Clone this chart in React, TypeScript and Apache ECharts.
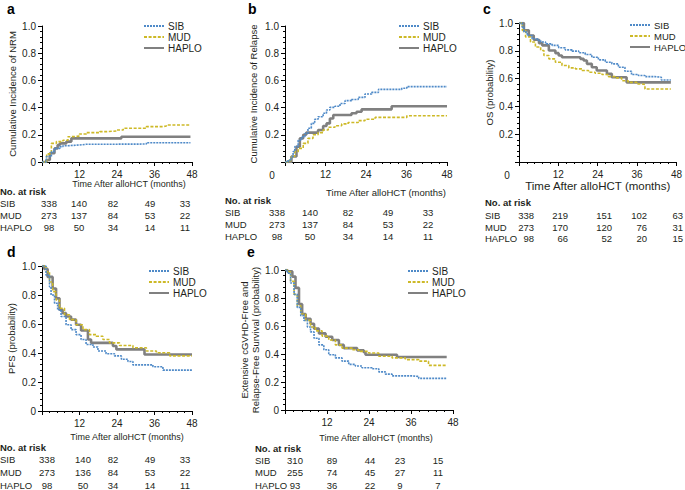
import React, { useEffect, useRef } from "react";
import * as echarts from "echarts";

const FONT = '"Liberation Sans", Arial, Helvetica, sans-serif';
const groups = ["SIB", "MUD", "HAPLO"];
const xTitle = "Time After alloHCT (months)";

// ---- Panel a: cumulative incidence of NRM
const nrmSIB = [[0,0],[1.4,0.04],[3,0.076],[4,0.1],[5.7,0.113],[6.7,0.12],[8.3,0.125],[12,0.13],[14.2,0.132],[33.4,0.142],[47.5,0.142]];
const nrmMUD = [[0,0],[1.5,0.06],[3,0.137],[4.6,0.15],[6.7,0.16],[8.3,0.186],[9.4,0.19],[12,0.206],[14.2,0.216],[18.5,0.223],[20.6,0.228],[23.8,0.235],[26,0.248],[33.4,0.26],[38.7,0.265],[39.8,0.272],[47.5,0.272]];
const nrmHAPLO = [[0,0],[1.4,0.015],[2.5,0.064],[4,0.1],[5,0.125],[5.7,0.137],[7.8,0.15],[9.4,0.174],[25.4,0.186],[47.5,0.186]];

// ---- Panel b: cumulative incidence of relapse
const relSIB = [[0,0],[0.9,0.015],[1.9,0.04],[2.4,0.076],[2.9,0.113],[3.9,0.16],[4.9,0.186],[5.9,0.21],[6.8,0.248],[7.8,0.284],[8.8,0.314],[9.8,0.333],[11.3,0.358],[12.3,0.382],[13.3,0.402],[14.8,0.41],[16.3,0.43],[17.8,0.451],[19.7,0.46],[21.7,0.475],[23.7,0.5],[25.7,0.512],[27.7,0.534],[34.6,0.542],[36.1,0.554],[48,0.554]];
const relMUD = [[0,0],[0.9,0.01],[1.9,0.04],[2.9,0.076],[3.9,0.1],[5.4,0.137],[6.8,0.174],[8.3,0.2],[9.8,0.216],[11.3,0.235],[12.8,0.255],[14.8,0.267],[16.8,0.28],[18.7,0.29],[21.7,0.304],[23.7,0.314],[26.7,0.328],[36.1,0.34],[48,0.34]];
const relHAPLO = [[0,0],[1.9,0.04],[3.4,0.113],[4.4,0.174],[5.4,0.2],[6.3,0.216],[9.8,0.235],[11.3,0.265],[12.3,0.284],[13.3,0.32],[14.3,0.346],[19.7,0.358],[21.2,0.37],[22.7,0.387],[31.6,0.41],[48,0.41]];

// ---- Panel c: OS
const osSIB = [[0,1],[1,0.97],[1.5,0.935],[2.5,0.91],[4,0.887],[5.6,0.875],[6.6,0.863],[8.1,0.85],[10.1,0.839],[12.1,0.822],[14.1,0.807],[16.2,0.798],[18.2,0.786],[20.2,0.773],[22.2,0.754],[24.2,0.735],[26.3,0.718],[28.3,0.706],[30.3,0.682],[32.3,0.653],[34.3,0.629],[36.4,0.622],[38.4,0.614],[41.4,0.61],[43.4,0.59],[46.3,0.585]];
const osMUD = [[0,1],[1,0.947],[2,0.9],[3.5,0.863],[5,0.827],[6.6,0.802],[7.6,0.766],[9.1,0.742],[11.1,0.718],[13.1,0.694],[15.2,0.677],[17.2,0.67],[19.2,0.658],[21.2,0.646],[23.2,0.639],[25.3,0.629],[27.3,0.614],[29.3,0.605],[31.3,0.585],[33.3,0.573],[35.9,0.561],[37.4,0.557],[38.4,0.525],[46.3,0.525]];
const osHAPLO = [[0,1],[1.5,0.947],[3,0.91],[4.5,0.88],[6.1,0.855],[7.1,0.839],[9.1,0.802],[11.1,0.783],[12.1,0.766],[13.1,0.754],[18.7,0.742],[19.7,0.73],[20.7,0.706],[22.2,0.682],[23.7,0.658],[26.8,0.634],[28.3,0.61],[32.8,0.573],[46.3,0.573]];

// ---- Panel d: PFS
const pfsSIB = [[0,1],[1.3,0.936],[2.4,0.857],[2.9,0.8],[4,0.743],[5,0.698],[6.1,0.652],[7.7,0.595],[9.3,0.561],[10.9,0.527],[12.5,0.493],[14.1,0.459],[16.3,0.441],[17.9,0.414],[20.5,0.395],[23.2,0.38],[25.4,0.357],[27.5,0.341],[29.1,0.318],[35.5,0.305],[38.7,0.282],[48,0.282]];
const pfsMUD = [[0,1],[1.3,0.96],[2.4,0.89],[3.4,0.823],[4.5,0.766],[5.6,0.709],[7.2,0.664],[8.8,0.63],[10.9,0.595],[13.1,0.561],[15.2,0.527],[17.3,0.516],[19.5,0.493],[21.6,0.47],[24.8,0.452],[29.1,0.436],[33.4,0.414],[36.6,0.402],[40.9,0.38],[48,0.38]];
const pfsHAPLO = [[0,1],[0.7,0.98],[1.8,0.925],[3.4,0.845],[4.5,0.777],[5.6,0.698],[6.6,0.675],[7.7,0.652],[9.3,0.63],[10.9,0.595],[12.5,0.555],[14.7,0.493],[15.7,0.47],[22.7,0.448],[23.8,0.425],[32.8,0.39],[48,0.39]];

// ---- Panel e: extensive cGVHD-free and relapse-free survival
const crfsSIB = [[0,1],[0.7,0.977],[1.6,0.907],[2.6,0.826],[3.5,0.733],[4.5,0.674],[5.4,0.64],[6.4,0.593],[7.3,0.558],[8.3,0.512],[9.7,0.465],[11.1,0.43],[12.5,0.395],[14.4,0.372],[16.3,0.349],[18.2,0.326],[20.1,0.314],[22,0.302],[24.9,0.295],[26.8,0.272],[28.7,0.256],[30.6,0.244],[36.3,0.24],[38.2,0.226],[46.2,0.226]];
const crfsMUD = [[0,1],[0.7,0.988],[1.6,0.919],[2.6,0.826],[3.5,0.744],[4.5,0.686],[5.9,0.64],[7.3,0.593],[8.7,0.565],[10.6,0.528],[12.5,0.5],[14.4,0.465],[16.3,0.442],[19.2,0.43],[21.1,0.419],[23.9,0.407],[26.8,0.384],[30.6,0.372],[34.4,0.36],[38.2,0.349],[41,0.319],[46.2,0.319]];
const crfsHAPLO = [[0,1],[0.7,0.99],[2.1,0.953],[3,0.872],[4,0.756],[4.9,0.686],[5.9,0.651],[7.3,0.616],[8.3,0.581],[9.7,0.547],[11.6,0.523],[13.5,0.5],[15.4,0.465],[16.8,0.442],[20.6,0.426],[22.5,0.412],[23,0.395],[32,0.379],[46.2,0.379]];

// ---- Numbers at risk (rows: SIB, MUD, HAPLO; columns: 0, 12, 24, 36, 48 months)
const riskNRM = [[338,140,82,49,33],[273,137,84,53,22],[98,50,34,14,11]];
const riskRelapse = [[338,140,82,49,33],[273,137,84,53,22],[98,50,34,14,11]];
const riskOS = [[338,219,151,102,63],[273,170,120,76,31],[98,66,52,20,15]];
const riskPFS = [[338,140,82,49,33],[273,136,84,53,22],[98,50,34,14,11]];
const riskCRFS = [[310,89,44,23,15],[255,74,45,27,11],[93,36,22,9,7]];

const STYLE: Record<string, any> = {
  SIB: { color: "#4f8ac8", width: 1.6, type: [2, 1] },
  MUD: { color: "#cdb927", width: 1.6, type: [3, 1.6] },
  HAPLO: { color: "#808080", width: 2.6, type: "solid" },
};

const PANELS = [
  {
    letter: "a", lx: 7, ly: 10,
    grid: { left: 42, top: 26, width: 150, height: 136 },
    series: { SIB: nrmSIB, MUD: nrmMUD, HAPLO: nrmHAPLO },
    yName: "Cumulative Incidence of NRM", yGap: 24, yZero: true, zeroX: null,
    xGap: 17, xPad: 24, xFont: 9,
    legend: { left: 143, top: 21, font: 10 },
    risk: riskNRM, tx: 0, headY: 191, rowY: [203, 215, 227], cols: [49, 79, 113, 150, 185], align: "center",
  },
  {
    letter: "b", lx: 248, ly: 10,
    grid: { left: 285, top: 26, width: 162, height: 136 },
    series: { SIB: relSIB, MUD: relMUD, HAPLO: relHAPLO },
    yName: "Cumulative Incidence of Relapse", yGap: 26, yZero: false, zeroX: 272,
    xGap: 25, xPad: 40, xFont: 9.5,
    legend: { left: 398, top: 21, font: 10 },
    risk: riskRelapse, tx: 225, headY: 200, rowY: [212, 224, 236], cols: [277, 310, 348, 388, 428], align: "center",
  },
  {
    letter: "c", lx: 483, ly: 10,
    grid: { left: 519, top: 23, width: 158, height: 139 },
    series: { SIB: osSIB, MUD: osMUD, HAPLO: osHAPLO },
    yName: "OS (probability)", yGap: 24, yZero: false, zeroX: 507,
    xGap: 16, xPad: 0, xFont: 11.5,
    legend: { left: 629, top: 20, font: 9.5 },
    risk: riskOS, tx: 485, headY: 202, rowY: [215, 227, 238], cols: [534, 568, 612, 647, 683], align: "right",
  },
  {
    letter: "d", lx: 7, ly: 253,
    grid: { left: 42, top: 266, width: 150, height: 145 },
    series: { SIB: pfsSIB, MUD: pfsMUD, HAPLO: pfsHAPLO },
    yName: "PFS (probability)", yGap: 25, yZero: true, zeroX: null,
    xGap: 21, xPad: 20, xFont: 9,
    legend: { left: 148, top: 266, font: 10 },
    risk: riskPFS, tx: 0, headY: 447, rowY: [459, 472, 485], cols: [47, 83, 113, 150, 185], align: "center",
  },
  {
    letter: "e", lx: 247, ly: 253,
    grid: { left: 285, top: 270, width: 168, height: 140 },
    series: { SIB: crfsSIB, MUD: crfsMUD, HAPLO: crfsHAPLO },
    yName: "Extensive cGVHD-Free and\nRelapse-Free Survival (probability)", yGap: 14, yZero: true, zeroX: null,
    xGap: 23, xPad: 14, xFont: 9,
    legend: { left: 407, top: 266, font: 10 },
    risk: riskCRFS, tx: 255, headY: 448, rowY: [460, 472, 485], cols: [295, 332, 370, 400, 438], align: "center",
  },
];

const TXT = "#231f20";
const TABLE_FONT = 9.5;

function buildOption() {
  const grid: any[] = [];
  const xAxis: any[] = [];
  const yAxis: any[] = [];
  const series: any[] = [];
  const legend: any[] = [];
  const graphic: any[] = [];

  PANELS.forEach((p, i) => {
    grid.push({ ...p.grid, containLabel: false });
    xAxis.push({
      type: "value", gridIndex: i, min: 0, max: 48, interval: 12,
      axisLine: { show: true, onZero: false, lineStyle: { color: "#000", width: 1 } },
      axisTick: { show: true, length: 4, lineStyle: { color: "#000" } },
      minorTick: { show: true, splitNumber: 5, length: 2, lineStyle: { color: "#000" } },
      splitLine: { show: false },
      axisLabel: {
        fontSize: 10, color: TXT, fontFamily: FONT, margin: 7,
        formatter: (v: number) => (v === 0 ? "" : String(v)),
      },
      name: xTitle, nameLocation: "middle", nameGap: p.xGap,
      nameTextStyle: { fontSize: p.xFont, color: TXT, fontFamily: FONT, padding: [0, 0, 0, p.xPad] },
    });
    yAxis.push({
      type: "value", gridIndex: i, min: 0, max: 1, interval: 0.2,
      axisLine: { show: true, onZero: false, lineStyle: { color: "#000", width: 1 } },
      axisTick: { show: true, length: 4, lineStyle: { color: "#000" } },
      minorTick: { show: true, splitNumber: 5, length: 2, lineStyle: { color: "#000" } },
      splitLine: { show: false },
      axisLabel: {
        fontSize: 10, color: TXT, fontFamily: FONT, margin: 6,
        formatter: (v: number) => (v === 0 ? (p.yZero ? "0" : "") : v.toFixed(1)),
      },
      name: p.yName, nameLocation: "middle", nameGap: p.yGap,
      nameTextStyle: { fontSize: 9.5, color: TXT, fontFamily: FONT, lineHeight: 11 },
    });
    ["HAPLO", "MUD", "SIB"].forEach((g) => {
      series.push({
        name: g, type: "line", xAxisIndex: i, yAxisIndex: i, step: "end",
        symbol: "none", showSymbol: false, data: (p.series as any)[g],
        lineStyle: { ...STYLE[g] }, itemStyle: { color: STYLE[g].color },
        emphasis: { disabled: true }, silent: true,
      });
    });
    legend.push({
      data: groups, orient: "vertical", left: p.legend.left, top: p.legend.top,
      itemWidth: 20, itemHeight: 10, itemGap: 1, padding: 0, selectedMode: false,
      itemStyle: { opacity: 0 },
      textStyle: { fontSize: p.legend.font, color: TXT, fontFamily: FONT, padding: [0, 0, 0, -1] },
    });
    if (p.zeroX !== null) {
      graphic.push({
        type: "text", x: p.zeroX, y: p.grid.top + p.grid.height + 13,
        style: { text: "0", font: `10px ${FONT}`, fill: TXT, textAlign: "center", textVerticalAlign: "middle" },
      });
    }
    graphic.push({
      type: "text", left: p.lx, top: p.ly - 8,
      style: { text: p.letter, font: `bold 14px ${FONT}`, fill: "#000" },
    });
    graphic.push({
      type: "text", x: p.tx, y: p.headY,
      style: { text: "No. at risk", font: `bold ${TABLE_FONT}px ${FONT}`, fill: TXT, textVerticalAlign: "middle" },
    });
    p.risk.forEach((row, r) => {
      graphic.push({
        type: "text", x: p.tx, y: p.rowY[r],
        style: { text: groups[r], font: `${TABLE_FONT}px ${FONT}`, fill: TXT, textVerticalAlign: "middle" },
      });
      row.forEach((n, c) => {
        graphic.push({
          type: "text", x: p.cols[c], y: p.rowY[r],
          style: { text: String(n), font: `${TABLE_FONT}px ${FONT}`, fill: TXT, textAlign: p.align, textVerticalAlign: "middle" },
        });
      });
    });
  });

  return { animation: false, backgroundColor: "#fff", grid, xAxis, yAxis, series, legend, graphic };
}

export default function App() {
  const ref = useRef<HTMLDivElement>(null);
  useEffect(() => {
    document.body.style.margin = "0";
    if (!ref.current) return;
    const chart = echarts.init(ref.current, undefined, { renderer: "svg" });
    chart.setOption(buildOption() as any);
    return () => chart.dispose();
  }, []);
  return <div ref={ref} style={{ width: 685, height: 490 }} />;
}
